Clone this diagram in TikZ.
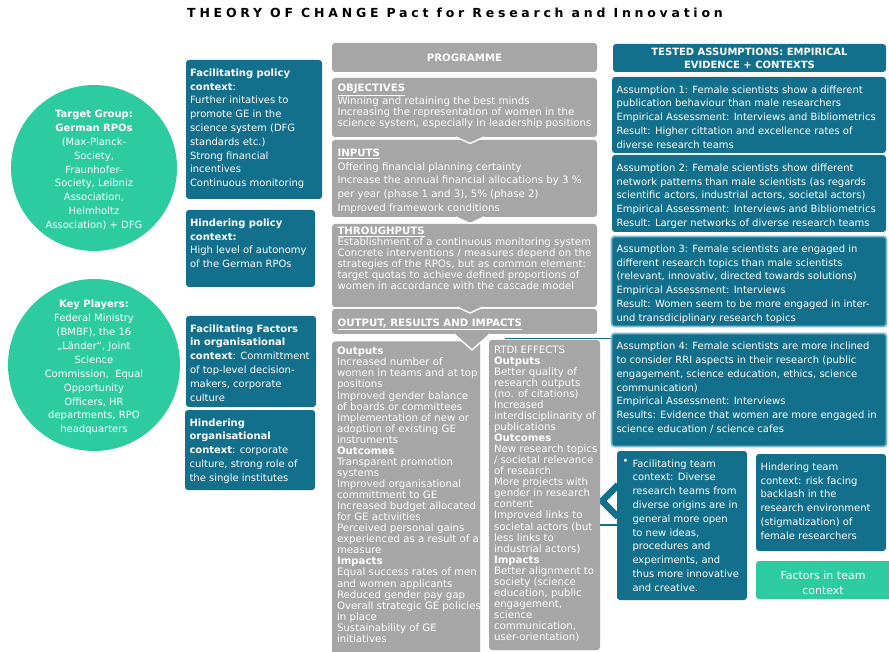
\documentclass[tikz,border=0pt]{standalone}
\usepackage{fontspec}
\setmainfont{DejaVu Sans}
\definecolor{tblue}{RGB}{19,112,141}
\definecolor{tgreen}{RGB}{44,204,160}
\definecolor{tgray}{RGB}{166,166,166}
\definecolor{tlight}{RGB}{120,186,208}
\begin{document}
\begin{tikzpicture}[x=1pt,y=-1pt,
  bx/.style={anchor=north west, inner sep=0pt, outer sep=0pt, rounded corners=3pt},
  bluebox/.style={bx, fill=tblue},
  litebox/.style={bx, fill=tblue, draw=tlight, line width=1.8pt},
  graybox/.style={bx, fill=tgray},
  greenbox/.style={bx, fill=tgreen},
  txt/.style={anchor=north west, inner sep=0pt, outer sep=0pt, align=left, text=white, font=\fontsize{10}{13.8}\selectfont},
  gtxt/.style={txt, font=\fontsize{10.2}{11.06}\selectfont},
  ctxt/.style={inner sep=0pt, align=center, text=white, font=\fontsize{10}{13.9}\selectfont},
  tri/.style={fill=tgray},
  triedge/.style={draw=white, line width=1.4pt, line join=round},
  brace/.style={draw=tblue, line width=1.2pt},
]
\useasboundingbox (0,0) rectangle (889,652);
\fill[white] (0,0) rectangle (889,652);

% title
\node[inner sep=0pt, font=\fontsize{12.5}{14}\selectfont\bfseries\addfontfeatures{LetterSpace=30}] (title) at (455,13) {THEORY OF CHANGE Pact for Research and Innovation};

% circles
\node[circle, fill=tgreen, minimum size=166pt, inner sep=0pt] (tg) at (94,168) {};
\node[ctxt] (tgt) at (94,170) {\textbf{Target Group:}\\\textbf{German RPOs}\\(Max-Planck-\\Society,\\Fraunhofer-\\Society, Leibniz\\Association,\\Helmholtz\\Association) + DFG};
\node[circle, fill=tgreen, minimum size=172pt, inner sep=0pt] (kp) at (94,365) {};
\node[ctxt] (kpt) at (94,367.5) {\textbf{Key Players:}\\Federal Ministry\\(BMBF), the 16\\„Länder“, Joint\\Science\\Commission,\ \ Equal\\Opportunity\\Officers, HR\\departments, RPO\\headquarters};

% left context boxes
\node[bluebox, minimum width=136pt, minimum height=139pt] (boxA) at (186,60) {};
\node[txt] (tA) at (190,68.8) {\textbf{Facilitating policy}\\\textbf{context}:\\Further initatives to\\promote GE in the\\science system (DFG\\standards etc.)\\Strong financial\\incentives\\Continuous monitoring};
\node[bluebox, minimum width=129pt, minimum height=77pt] (boxB) at (186,210) {};
\node[txt] (tB) at (190,218.8) {\textbf{Hindering policy}\\\textbf{context:}\\High level of autonomy\\of the German RPOs};
\node[bluebox, minimum width=130pt, minimum height=91pt] (boxC) at (186,316) {};
\node[txt] (tC) at (190,324.5) {\textbf{Facilitating Factors}\\\textbf{in organisational}\\\textbf{context}: Committment\\of top-level decision-\\makers, corporate\\culture};
\node[bluebox, minimum width=130pt, minimum height=80pt] (boxD) at (185,410) {};
\node[txt] (tD) at (189.5,418.5) {\textbf{Hindering}\\\textbf{organisational}\\\textbf{context}: corporate\\culture, strong role of\\the single institutes};

% bracket behind RTDI box
\coordinate (br1) at (505,338.5);
\coordinate (br2) at (612,338.5);
\coordinate (br3) at (590,525);
\coordinate (br4) at (619,525);
\draw[brace] (br1) -- (br2);
\draw[brace] (br3) -- (br4);
\coordinate (ch1) at (618,485);
\coordinate (ch2) at (602,501);
\coordinate (ch3) at (618,517);
\draw[draw=tblue, line width=6.5pt, line join=miter] (ch1) -- (ch2) -- (ch3);

% programme column
\node[graybox, minimum width=265pt, minimum height=29pt] (prog) at (332,43) {};
\node[inner sep=0pt, text=white, font=\fontsize{10.2}{12}\selectfont\bfseries] (progt) at (464.5,57.5) {PROGRAMME};
\node[graybox, minimum width=265pt, minimum height=59pt] (obj) at (332,78) {};
\node[graybox, minimum width=265pt, minimum height=77pt] (inp) at (332,140) {};
\node[graybox, minimum width=265pt, minimum height=83pt] (thr) at (332,224) {};
\node[graybox, minimum width=265pt, minimum height=25pt] (outp) at (332,309) {};
\node[graybox, minimum width=148pt, minimum height=330pt] (lbox) at (332,341.5) {};
\node[graybox, minimum width=111pt, minimum height=310pt] (rtdi) at (489,340) {};

% down arrows between programme boxes
\coordinate (a1l) at (456,137); \coordinate (a1m) at (470,143.5); \coordinate (a1r) at (484,137);
\fill[tri] (a1l) -- (a1m) -- (a1r) -- cycle; \draw[triedge] (a1l) -- (a1m) -- (a1r);
\coordinate (a2l) at (456,217); \coordinate (a2m) at (470,223.5); \coordinate (a2r) at (484,217);
\fill[tri] (a2l) -- (a2m) -- (a2r) -- cycle; \draw[triedge] (a2l) -- (a2m) -- (a2r);
\coordinate (a3l) at (457,307); \coordinate (a3m) at (470,313); \coordinate (a3r) at (483,307);
\fill[tri] (a3l) -- (a3m) -- (a3r) -- cycle; \draw[triedge] (a3l) -- (a3m) -- (a3r);
\coordinate (a4l) at (454,334); \coordinate (a4m) at (472,350); \coordinate (a4r) at (490,334);
\fill[tri] (a4l) -- (a4m) -- (a4r) -- cycle; \draw[triedge] (a4l) -- (a4m) -- (a4r);

\node[gtxt] (objt) at (337.5,83.8) {\underline{\textbf{OBJECTIVES}}\\Winning and retaining the best minds\\Increasing the representation of women in the\\science system, especially in leadership positions};
\node[txt, font=\fontsize{10.2}{13.8}\selectfont] (inpt) at (337.5,148.8) {\underline{\textbf{INPUTS}}\\Offering financial planning certainty\\Increase the annual financial allocations by 3 \%\\per year (phase 1 and 3), 5\% (phase 2)\\Improved framework conditions};
\node[gtxt] (thrt) at (337.5,227) {\underline{\textbf{THROUGHPUTS}}\\Establishment of a continuous monitoring system\\Concrete interventions / measures depend on the\\strategies of the RPOs, but as common element:\\target quotas to achieve defined proportions of\\women in accordance with the cascade model};
\node[anchor=base west, inner sep=0pt, text=white, font=\fontsize{10.2}{12}\selectfont] (outpt) at (337.5,326.5) {\underline{\textbf{OUTPUT, RESULTS AND IMPACTS}}};

\node[gtxt] (lboxt) at (337,347.2) {\textbf{Outputs}\\Increased number of\\women in teams and at top\\positions\\Improved gender balance\\of boards or committees\\Implementation of new or\\adoption of existing GE\\instruments\\\textbf{Outcomes}\\Transparent promotion\\systems\\Improved organisational\\committment to GE\\Increased budget allocated\\for GE activiities\\Perceived personal gains\\experienced as a result of a\\measure\\\textbf{Impacts}\\Equal success rates of men\\and women applicants\\Reduced gender pay gap\\Overall strategic GE policies\\in place\\Sustainability of GE\\initiatives};
\node[gtxt] (rtdit) at (494,345.5) {RTDI EFFECTS\\\textbf{Outputs}\\Better quality of\\research outputs\\(no. of citations)\\Increased\\interdisciplinarity of\\publications\\\textbf{Outcomes}\\New research topics\\/ societal relevance\\of research\\More projects with\\gender in research\\content\\Improved links to\\societal actors (but\\less links to\\industrial actors)\\\textbf{Impacts}\\Better alignment to\\society (science\\education, public\\engagement,\\science\\communication,\\user-orientation)};

% right column
\node[bluebox, minimum width=273pt, minimum height=28pt] (head) at (613,44) {};
\node[inner sep=0pt, align=center, text=white, font=\fontsize{10}{13.6}\selectfont\bfseries] (headt) at (749.5,58.5) {TESTED ASSUMPTIONS: EMPIRICAL\\EVIDENCE + CONTEXTS};
\node[bluebox, minimum width=274pt, minimum height=76pt] (A1) at (612,77) {};
\node[txt] (A1t) at (616.5,85.5) {Assumption 1: Female scientists show a different\\publication behaviour than male researchers\\Empirical Assessment: Interviews and Bibliometrics\\Result: Higher cittation and excellence rates of\\diverse research teams};
\node[bluebox, minimum width=274pt, minimum height=77pt] (A2) at (612,155) {};
\node[txt] (A2t) at (616.5,163.8) {Assumption 2: Female scientists show different\\network patterns than male scientists (as regards\\scientific actors, industrial actors, societal actors)\\Empirical Assessment: Interviews and Bibliometrics\\Result: Larger networks of diverse research teams};
\node[litebox, minimum width=275pt, minimum height=90pt] (A3) at (611.5,236.5) {};
\node[txt] (A3t) at (616.5,244.8) {Assumption 3: Female scientists are engaged in\\different research topics than male scientists\\(relevant, innovativ, directed towards solutions)\\Empirical Assessment: Interviews\\Result: Women seem to be more engaged in inter-\\und transdiciplinary research topics};
\node[litebox, minimum width=275pt, minimum height=113pt] (A4) at (611.5,333.5) {};
\node[txt] (A4t) at (616.5,342.2) {Assumption 4: Female scientists are more inclined\\to consider RRI aspects in their research (public\\engagement, science education, ethics, science\\communication)\\Empirical Assessment: Interviews\\Results: Evidence that women are more engaged in\\science education / science cafes};

% team context
\node[bluebox, minimum width=130pt, minimum height=149pt] (fteam) at (617,451) {};
\node[txt] (bullet) at (622.5,459.5) {•};
\node[txt] (fteamt) at (632.5,459.5) {Facilitating team\\context: Diverse\\research teams from\\diverse origins are in\\general more open\\to new ideas,\\procedures and\\experiments, and\\thus more innovative\\and creative.};
\node[bluebox, minimum width=130pt, minimum height=97pt] (hteam) at (756,454) {};
\node[txt] (hteamt) at (760.5,462.8) {Hindering team\\context: risk facing\\backlash in the\\research environment\\(stigmatization) of\\female researchers};
\node[greenbox, minimum width=140pt, minimum height=38pt] (fact) at (756,561) {};
\node[inner sep=0pt, align=center, text=white, font=\fontsize{11}{15}\selectfont] (factt) at (823,582.5) {Factors in team\\context};
\end{tikzpicture}
\end{document}
